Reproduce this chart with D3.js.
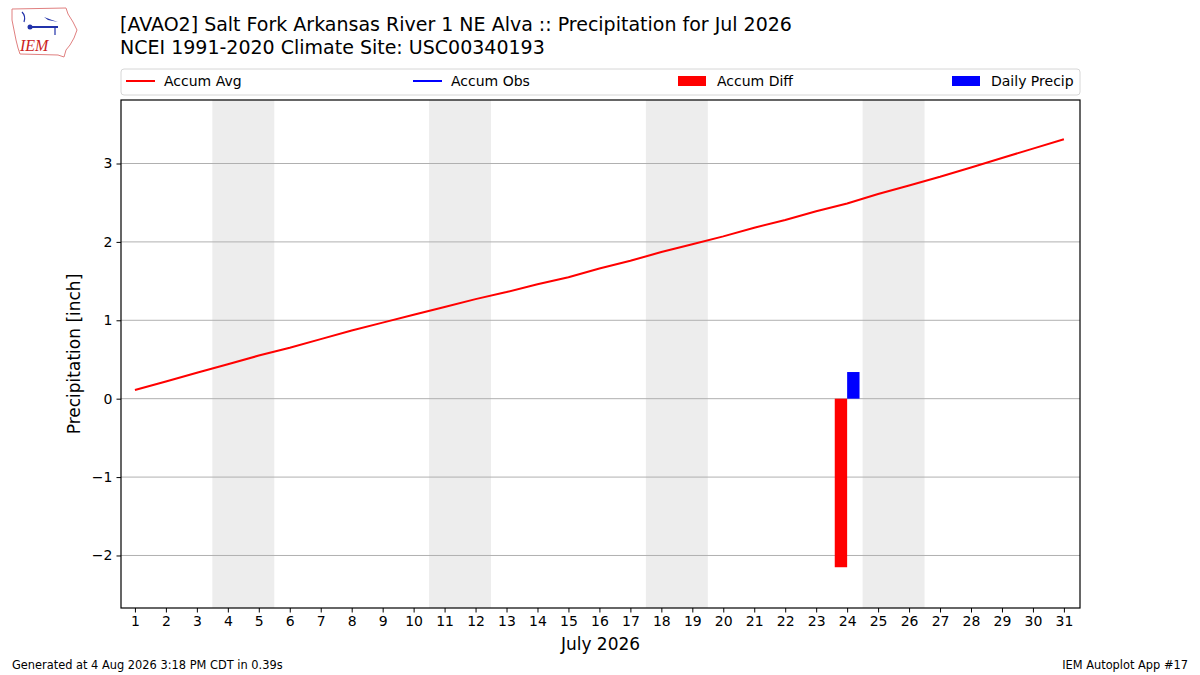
<!DOCTYPE html>
<html>
<head>
<meta charset="utf-8">
<script src="https://cdn.jsdelivr.net/npm/d3@7"></script>
<style>
  body { margin: 0; background: #fff; }
  text { font-family: "DejaVu Sans", sans-serif; fill: #000; }
</style>
</head>
<body>
<div id="chart"></div>
<script>
// days of July 2026
const days = d3.range(1, 32);
// climatological accumulated precipitation (inch)
const accumAvg = [0.11, 0.22, 0.33, 0.44, 0.55, 0.65, 0.76, 0.87, 0.97, 1.07,
  1.17, 1.27, 1.36, 1.46, 1.55, 1.66, 1.76, 1.87, 1.97, 2.07,
  2.18, 2.28, 2.39, 2.49, 2.61, 2.72, 2.83, 2.95, 3.07, 3.19, 3.31];
// observed values (only one day reported)
const obsDays = [24];
const accumObs = [0.34];
const accumDiff = [-2.15];
const dailyPrecip = [0.34];
// weekends to shade
const weekendStarts = [4, 11, 18, 25];
const yTicks = [-2, -1, 0, 1, 2, 3];

const W = 1200, H = 675;
const margin = { left: 121, right: 120, top: 100, bottom: 67 };

const svg = d3.select("#chart").append("svg")
  .attr("width", W).attr("height", H);

const x = d3.scaleLinear().domain([0.55, 31.52]).range([margin.left, W - margin.right]);
const y = d3.scaleLinear().domain([-2.67, 3.81]).range([H - margin.bottom, margin.top]);

// weekend shading
svg.append("g").selectAll("rect")
  .data(weekendStarts)
  .enter().append("rect")
  .attr("x", d => x(d - 0.5))
  .attr("width", d => x(d + 1.5) - x(d - 0.5))
  .attr("y", margin.top)
  .attr("height", y.range()[0] - margin.top)
  .attr("fill", "#ededed");

// horizontal grid
svg.append("g").selectAll("line")
  .data(yTicks)
  .enter().append("line")
  .attr("x1", margin.left).attr("x2", W - margin.right)
  .attr("y1", d => y(d)).attr("y2", d => y(d))
  .attr("stroke", "#b0b0b0").attr("stroke-width", 1);

// accum diff bars (left of day) and daily precip bars (right of day)
svg.append("g").selectAll("rect")
  .data(obsDays.map((d, i) => ({ d: d, v: accumDiff[i] })))
  .enter().append("rect")
  .attr("x", p => x(p.d - 0.4))
  .attr("width", p => x(p.d) - x(p.d - 0.4))
  .attr("y", p => y(Math.max(0, p.v)))
  .attr("height", p => Math.abs(y(p.v) - y(0)))
  .attr("fill", "red");

svg.append("g").selectAll("rect")
  .data(obsDays.map((d, i) => ({ d: d, v: dailyPrecip[i] })))
  .enter().append("rect")
  .attr("x", p => x(p.d))
  .attr("width", p => x(p.d + 0.4) - x(p.d))
  .attr("y", p => y(Math.max(0, p.v)))
  .attr("height", p => Math.abs(y(p.v) - y(0)))
  .attr("fill", "blue");

const line = d3.line().x(p => x(p[0])).y(p => y(p[1]));

svg.append("path")
  .datum(days.map((d, i) => [d, accumAvg[i]]))
  .attr("d", line)
  .attr("fill", "none").attr("stroke", "red").attr("stroke-width", 2);

svg.append("path")
  .datum(obsDays.map((d, i) => [d, accumObs[i]]))
  .attr("d", line)
  .attr("fill", "none").attr("stroke", "blue").attr("stroke-width", 2);

// axes
const xAxis = d3.axisBottom(x).tickValues(days).tickFormat(d3.format("d")).tickSizeOuter(0).tickSize(4.5).tickPadding(4);
const yAxis = d3.axisLeft(y).tickValues(yTicks).tickFormat(d => d < 0 ? "\u2212" + Math.abs(d) : d).tickSizeOuter(0).tickSize(4.5).tickPadding(4);

const gx = svg.append("g").attr("transform", `translate(0,${y.range()[0]})`).call(xAxis);
const gy = svg.append("g").attr("transform", `translate(${margin.left},0)`).call(yAxis);
[gx, gy].forEach(g => {
  g.select(".domain").remove();
  g.selectAll("text").style("font-size", "14px").style("font-family", "DejaVu Sans").attr("fill", "#000");
  g.selectAll("line").attr("stroke", "#000");
});

// frame
svg.append("rect")
  .attr("x", margin.left).attr("y", margin.top)
  .attr("width", W - margin.right - margin.left)
  .attr("height", y.range()[0] - margin.top)
  .attr("fill", "none").attr("stroke", "#000").attr("stroke-width", 1.2);

// axis labels
svg.append("text")
  .attr("x", (margin.left + W - margin.right) / 2).attr("y", 650)
  .attr("text-anchor", "middle").style("font-size", "17px")
  .text("July 2026");

svg.append("text")
  .attr("transform", `translate(80,${(margin.top + y.range()[0]) / 2}) rotate(-90)`)
  .attr("text-anchor", "middle").style("font-size", "17px")
  .text("Precipitation [inch]");

// titles
svg.append("text").attr("x", 120).attr("y", 31).style("font-size", "19px")
  .text("[AVAO2] Salt Fork Arkansas River 1 NE Alva :: Precipitation for Jul 2026");
svg.append("text").attr("x", 120).attr("y", 54).style("font-size", "19px")
  .text("NCEI 1991-2020 Climate Site: USC00340193");

// legend
const lg = svg.append("g");
lg.append("rect")
  .attr("x", 121).attr("y", 69).attr("width", 959).attr("height", 26)
  .attr("rx", 3).attr("fill", "#fff").attr("stroke", "#d6d6d6");
const legendItems = [
  { label: "Accum Avg", color: "red", kind: "line", x0: 126 },
  { label: "Accum Obs", color: "blue", kind: "line", x0: 413 },
  { label: "Accum Diff", color: "red", kind: "patch", x0: 678 },
  { label: "Daily Precip", color: "blue", kind: "patch", x0: 952 }
];
legendItems.forEach(it => {
  if (it.kind === "line") {
    lg.append("line").attr("x1", it.x0).attr("x2", it.x0 + 29)
      .attr("y1", 81).attr("y2", 81).attr("stroke", it.color).attr("stroke-width", 2);
  } else {
    lg.append("rect").attr("x", it.x0).attr("y", 76).attr("width", 28).attr("height", 10)
      .attr("fill", it.color);
  }
  lg.append("text").attr("x", it.x0 + (it.kind === "line" ? 38 : 39)).attr("y", 86)
    .style("font-size", "14px").text(it.label);
});

// footer
svg.append("text").attr("x", 12).attr("y", 669).style("font-size", "11.4px")
  .text("Generated at 4 Aug 2026 3:18 PM CDT in 0.39s");
svg.append("text").attr("x", 1188).attr("y", 669).attr("text-anchor", "end").style("font-size", "11.4px")
  .text("IEM Autoplot App #17");

// IEM logo (rough)
const logo = svg.append("g");
logo.append("path")
  .attr("d", "M12,9 L66,8 L68,14 L73,22 L77,30 L74,38 L70,45 L66,50 L64,57 L58,55 L20,54 L18,48 L16,40 L14,30 L12,20 Z")
  .attr("fill", "none").attr("stroke", "#e08080").attr("stroke-width", 1);
logo.append("line").attr("x1", 28).attr("x2", 58).attr("y1", 27).attr("y2", 27).attr("stroke", "#2233aa").attr("stroke-width", 2);
logo.append("circle").attr("cx", 30).attr("cy", 27).attr("r", 2.5).attr("fill", "#2233aa");
logo.append("path").attr("d", "M44,17 L52,20 L58,22 L48,20 Z").attr("fill", "#2233aa");
logo.append("path").attr("d", "M22,12 Q26,16 24,22 M55,27 L55,35").attr("fill", "none").attr("stroke", "#2233aa").attr("stroke-width", 1.2);
logo.append("text").attr("x", 20).attr("y", 51)
  .style("font-family", "Liberation Serif").style("font-style", "italic").style("font-size", "16px")
  .attr("fill", "#cc2222").style("fill", "#cc2222").text("IEM");
</script>
</body>
</html>
